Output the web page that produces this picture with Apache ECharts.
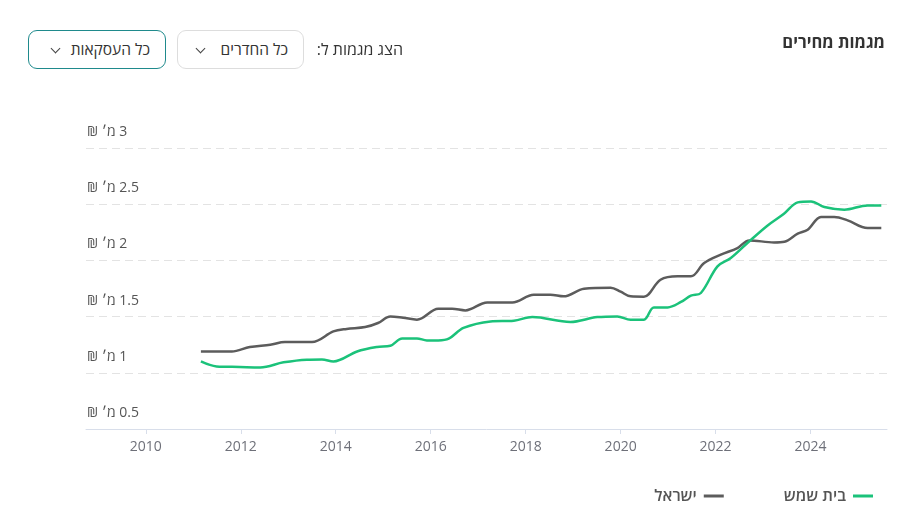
<!DOCTYPE html>
<html>
<head>
<meta charset="utf-8">
<script src="https://cdn.jsdelivr.net/npm/echarts@6/dist/echarts.min.js"></script>
<style>
  html, body { margin:0; padding:0; background:#fff; }
  #wrap { position:relative; width:915px; height:510px; font-family:"Open Sans","Liberation Sans","DejaVu Sans",sans-serif; }
  #chart { position:absolute; left:0; top:0; width:915px; height:510px; }
  .title { position:absolute; right:30px; top:30px; font-size:16.5px; font-weight:700; color:#333; direction:rtl; }
  .lbl { position:absolute; left:300px; top:38px; width:103px; text-align:right; font-size:16px; color:#333; direction:rtl; }
  .btn { position:absolute; top:30px; border:1px solid #ddd; border-radius:9px; box-sizing:border-box; background:#fff; direction:rtl; font-size:15.5px; color:#333; line-height:36px; padding-right:15px; }
  .btn .chev { position:absolute; top:14px; width:6px; height:6px; border-right:1.5px solid #444; border-bottom:1.5px solid #444; transform:rotate(45deg); }
  #b1 { left:28px; width:138px; height:39px; border:1.5px solid #1f8a8c; }
  #b1 .chev { left:23px; }
  #b2 { left:177px; width:127px; height:39px; }
  #b2 .chev { left:19px; }
</style>
</head>
<body>
<div id="wrap">
  <div id="chart"></div>
  <div class="title">מגמות מחירים</div>
  <div class="lbl">הצג מגמות ל:</div>
  <div class="btn" id="b2">כל החדרים<span class="chev"></span></div>
  <div class="btn" id="b1">כל העסקאות<span class="chev"></span></div>
</div>
<script>
// Data
const seriesNames = ['בית שמש', 'ישראל'];
const israelYears = [2011.16, 2011.81, 2012.19, 2012.62, 2012.93, 2013.50, 2013.95, 2014.23, 2014.62, 2014.89, 2015.15, 2015.42, 2015.71, 2016.16, 2016.45, 2016.73, 2017.19, 2017.72, 2018.17, 2018.52, 2018.80, 2019.23, 2019.79, 2020.00, 2020.21, 2020.49, 2020.84, 2021.20, 2021.48, 2021.76, 2022.11, 2022.46, 2022.71, 2023.23, 2023.45, 2023.73, 2023.94, 2024.22, 2024.50, 2024.78, 2025.20, 2025.49];
const israelValues = [1.190, 1.190, 1.230, 1.250, 1.274, 1.274, 1.368, 1.390, 1.407, 1.443, 1.502, 1.490, 1.473, 1.570, 1.570, 1.555, 1.626, 1.626, 1.695, 1.695, 1.680, 1.748, 1.757, 1.722, 1.680, 1.677, 1.828, 1.858, 1.858, 1.977, 2.051, 2.110, 2.178, 2.160, 2.166, 2.238, 2.273, 2.386, 2.386, 2.356, 2.288, 2.288];
const beitShemeshYears = [2011.16, 2011.49, 2011.98, 2012.41, 2012.90, 2013.39, 2013.71, 2013.95, 2014.45, 2014.87, 2015.15, 2015.40, 2015.71, 2015.92, 2016.16, 2016.38, 2016.69, 2017.26, 2017.75, 2018.14, 2018.94, 2019.51, 2019.93, 2020.21, 2020.49, 2020.70, 2020.99, 2021.27, 2021.48, 2021.69, 2022.04, 2022.32, 2022.67, 2023.09, 2023.44, 2023.73, 2024.01, 2024.29, 2024.71, 2025.20, 2025.49];
const beitShemeshValues = [1.101, 1.057, 1.052, 1.048, 1.093, 1.117, 1.119, 1.101, 1.190, 1.230, 1.241, 1.306, 1.306, 1.288, 1.288, 1.303, 1.399, 1.457, 1.464, 1.496, 1.452, 1.496, 1.502, 1.472, 1.472, 1.582, 1.582, 1.630, 1.686, 1.710, 1.947, 2.021, 2.155, 2.309, 2.415, 2.516, 2.525, 2.475, 2.451, 2.489, 2.489];
const xTickLabels = [2010, 2012, 2014, 2016, 2018, 2020, 2022, 2024];
const yTickValues = [0.5, 1, 1.5, 2, 2.5, 3];

const zip = (xs, ys) => xs.map((x, i) => [x, ys[i]]);
const FONT = '"Open Sans","Liberation Sans","DejaVu Sans",sans-serif';

const chart = echarts.init(document.getElementById('chart'), null, { renderer: 'canvas' });
chart.setOption({
  animation: false,
  grid: { left: 86, right: 28, top: 148, bottom: 81, containLabel: false },
  legend: {
    data: [seriesNames[1], seriesNames[0]],
    right: 37,
    bottom: 1,
    align: 'right',
    icon: 'rect',
    itemWidth: 20,
    itemHeight: 3,
    itemGap: 60,
    textStyle: { fontFamily: FONT, fontSize: 16, fontWeight: 600, color: '#555', padding: [0, 2, 0, 0] }
  },
  xAxis: {
    type: 'value',
    min: 2008.74,
    max: 2025.61,
    axisLine: { show: true, lineStyle: { color: '#D8DEEA', width: 1 } },
    axisTick: { show: true, customValues: xTickLabels, length: 5, lineStyle: { color: '#D8DEEA' } },
    axisLabel: { customValues: xTickLabels, color: '#6E7079', fontSize: 14, fontFamily: FONT, margin: 11, formatter: v => String(v) },
    splitLine: { show: false }
  },
  yAxis: {
    type: 'value',
    min: 0.5,
    max: 3,
    interval: 0.5,
    axisLine: { show: false },
    axisTick: { show: false },
    axisLabel: {
      inside: true,
      margin: 1,
      verticalAlign: 'bottom',
      padding: [0, 0, 9, 0],
      color: '#555',
      fontSize: 14,
      fontFamily: FONT,
      formatter: v => '\u202B' + v + ' מ׳ ₪' + '\u202C'
    },
    splitLine: { show: true, lineStyle: { color: '#E3E3E3', type: [8, 5], width: 1 } }
  },
  series: [
    {
      name: seriesNames[1],
      type: 'line',
      data: zip(israelYears, israelValues),
      smooth: 0.35,
      showSymbol: false,
      symbol: 'none',
      lineStyle: { color: '#5C5C5C', width: 2.5 },
      itemStyle: { color: '#5C5C5C' }
    },
    {
      name: seriesNames[0],
      type: 'line',
      data: zip(beitShemeshYears, beitShemeshValues),
      smooth: 0.35,
      showSymbol: false,
      symbol: 'none',
      lineStyle: { color: '#1BC27A', width: 2.5 },
      itemStyle: { color: '#1BC27A' }
    }
  ]
});
</script>
</body>
</html>
